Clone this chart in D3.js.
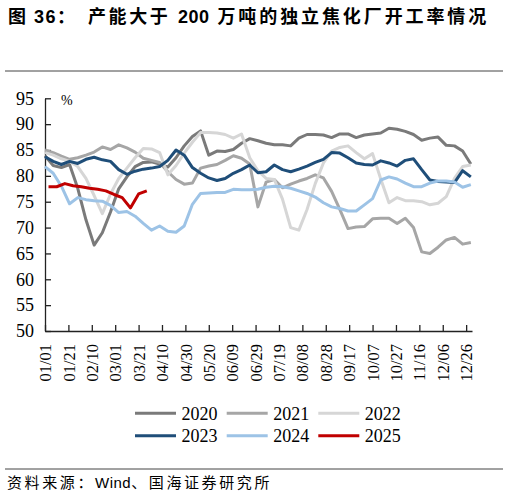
<!DOCTYPE html>
<html><head><meta charset="utf-8">
<script src="https://cdn.jsdelivr.net/npm/d3@7"></script>
<style>
html,body{margin:0;padding:0;background:#fff;}
svg{display:block;}
</style></head>
<body>
<svg id="chart" width="508" height="496"></svg>
<script>
const years = ["2020","2021","2022","2023","2024","2025"];
const colors = ["#7a7a7a","#a6a6a6","#d6d6d6","#1f4e79","#9dc3e6","#c00000"];
const startDay = [0,0,0,0,0,3];
const v2020 = [83.9,82,81.6,82.2,77.6,71.5,66.6,69,73,77.5,79.8,81.8,82.6,82.7,82.3,81.7,83.5,85.8,87.6,88.7,84,84.8,84.7,85.1,86.3,87.2,86.8,86.3,86,86,85.8,87.3,88,88,87.9,87.4,88.1,88.1,87.4,87.9,88.1,88.3,89.2,89,88.6,88,86.9,87.3,87.5,85.9,85.8,84.8,82.3];
const v2021 = [85,84.5,83.8,83.2,83.5,84,84.6,85.6,85.1,86,85.4,84.6,83.4,83,82.6,80.8,79.3,78.4,78.6,81.5,81.9,82.2,83,83.9,83.4,82.3,74,78.8,79.3,77.7,78.4,79,79.5,80.2,79.6,77,73.5,69.8,70.1,70.2,71.7,71.8,71.8,70.8,71.8,70,65.3,65,66.2,67.6,68.1,66.8,67.1];
const v2022 = [84.5,84,83.3,82.8,81.8,79.5,76.2,72.7,76.5,79.5,81.5,83.5,85.3,85.2,84.5,80.2,82,84.4,86.5,88.4,88.4,88.3,88,87.3,88.1,83.5,81,79.5,79.3,75.5,70,69.5,73.5,78.5,82.5,84.8,85.5,85.8,84.5,83.3,84.3,79.4,74.8,75.8,75.2,75.2,75,74.4,74.7,76,79.5,81.8,82.1];
const v2023 = [83.7,82.8,82.2,82.8,82.4,83.2,83.6,83.1,82.8,81.2,80.3,80.9,81.3,81.5,81.8,83,85,84,81.6,80.5,79.6,79.1,79.5,80.5,81.2,82.1,80.6,80.8,82.1,81.2,80.8,81.3,81.9,82.6,83.2,84.5,84.4,83.5,82.5,82.2,82.1,82.9,82.5,81.9,83,83.3,81.2,79.2,78.9,78.8,78.7,81,79.8];
const v2024 = [81.8,80.5,78,74.6,75.8,75.4,75.2,75.1,74.3,72.9,73.1,72.2,70.8,69.5,70.3,69.3,69.1,70.3,74.5,76.6,76.7,76.8,76.8,77.4,77.3,77.3,77.4,77.8,78,77.9,77.6,77.1,76.6,75.9,74.8,74,73.7,73.2,73.2,74.4,75.6,79.2,79.8,79.4,78.6,77.9,77.9,78.6,79,79,78.8,77.8,78.3];
const v2025 = [77.9,77.9,78.5,78.1,77.9,77.6,77.4,77.1,76.4,75.8,73.8,76.5,77.1];
const seriesValues = [v2020,v2021,v2022,v2023,v2024,v2025];
const xTickDays = [0,20,40,60,80,100,120,140,160,180,200,220,240,260,280,300,320,340,360];
const xTickLabels = ["01/01","01/21","02/10","03/01","03/21","04/10","04/30","05/20","06/09","06/29","07/19","08/08","08/28","09/17","10/07","10/27","11/16","12/06","12/26"];
const yTicks = [50,55,60,65,70,75,80,85,90,95];

const svg = d3.select("#chart");
const x = d3.scaleLinear().domain([0,365]).range([45,472]);
const y = d3.scaleLinear().domain([50,95]).range([331,98.3]);

// title
const tFont = "'Liberation Sans','Noto Sans CJK SC',sans-serif";
svg.append("text").attr("x",8).attr("y",23)
  .style("font-family",tFont).style("font-weight","bold")
  .style("font-size","18px").style("letter-spacing","1.5px").attr("fill","#000")
  .text("图 36：");
const title = svg.append("text").attr("x",88).attr("y",23)
  .style("font-family",tFont).style("font-weight","bold")
  .style("font-size","18px").attr("fill","#000");
title.append("tspan").style("letter-spacing","2.6px").text("产能大于 ");
title.append("tspan").style("letter-spacing","0.5px").text("200");
title.append("tspan").style("letter-spacing","2.9px").text(" 万吨的独立焦化厂开工率情况");
svg.append("line").attr("x1",5).attr("x2",503).attr("y1",71).attr("y2",71).attr("stroke","#444").attr("stroke-width",1);
svg.append("line").attr("x1",5).attr("x2",503).attr("y1",469).attr("y2",469).attr("stroke","#444").attr("stroke-width",1);
const src = svg.append("text").attr("x",7).attr("y",488)
  .style("font-family","'Noto Sans CJK SC','Liberation Sans',sans-serif")
  .style("font-size","15px").attr("fill","#000");
src.append("tspan").style("letter-spacing","2.6px").text("资料来源：");
src.append("tspan").style("font-family","'Liberation Sans',sans-serif").style("letter-spacing","0.5px").text("Wind");
src.append("tspan").style("letter-spacing","2.6px").text("、国海证券研究所");

// axes
const serif = "'Liberation Serif','Times New Roman',serif";
const yAxis = svg.append("g").attr("transform","translate(45,0)")
  .call(d3.axisLeft(y).tickValues(yTicks).tickSizeInner(-6).tickSizeOuter(0).tickPadding(11).tickFormat(d3.format("d")));
yAxis.selectAll("text").style("font-family",serif).style("font-size","18px").attr("fill","#000");
const xAxis = svg.append("g").attr("transform","translate(0,331)")
  .call(d3.axisBottom(x).tickValues(xTickDays).tickSizeInner(-6).tickSizeOuter(0)
    .tickFormat((d,i)=>xTickLabels[i]));
xAxis.selectAll("text").attr("transform","rotate(-90)").attr("x",-13).attr("y",0).attr("dy","0.34em")
  .style("text-anchor","end").style("font-family",serif).style("font-size","16.5px").attr("fill","#000");
[yAxis,xAxis].forEach(g=>{
  g.select(".domain").attr("stroke","#222").attr("stroke-width",1.3);
  g.selectAll(".tick line").attr("stroke","#222").attr("stroke-width",1.3);
});
svg.append("text").attr("x",61).attr("y",105).style("font-family",serif).style("font-size","14px").attr("fill","#000").text("%");

// lines
const line = d3.line().x(d=>x(d.day)).y(d=>y(d.v)).curve(d3.curveLinear);
seriesValues.forEach((vals,si)=>{
  const pts = vals.map((v,i)=>({day:startDay[si]+i*7, v}));
  svg.append("path").datum(pts).attr("d",line).attr("fill","none")
    .attr("stroke",colors[si]).attr("stroke-width",3).attr("stroke-linejoin","round");
});

// legend
const legX = [135,226.7,318.3];
const legY = [413.3,435.7];
years.forEach((yr,i)=>{
  const lx = legX[i%3], ly = legY[Math.floor(i/3)];
  svg.append("line").attr("x1",lx).attr("x2",lx+41).attr("y1",ly).attr("y2",ly)
    .attr("stroke",colors[i]).attr("stroke-width",3);
  svg.append("text").attr("x",lx+46.5).attr("y",ly).attr("dy","0.35em")
    .style("font-family",serif).style("font-size","18px").attr("fill","#000").text(yr);
});
</script>
</body></html>
